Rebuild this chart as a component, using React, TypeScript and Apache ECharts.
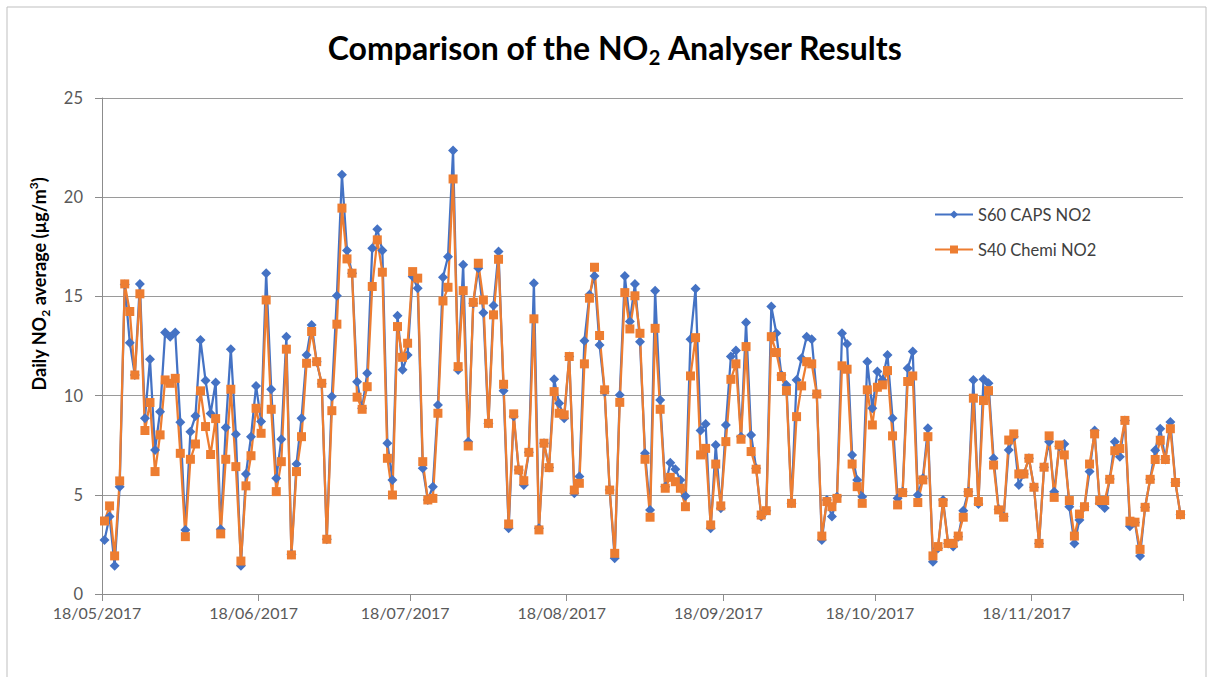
import React, { useEffect, useRef } from "react";
import * as echarts from "echarts";

const START_DATE = "2017-05-18";
const DAY_COUNT = 214;
const TICK_LABELS = ["18/05/2017", "18/06/2017", "18/07/2017", "18/08/2017", "18/09/2017", "18/10/2017", "18/11/2017"];
const SERIES_NAMES = ["S60 CAPS NO2", "S40 Chemi NO2"];

const CAPS_NO2 = [
  2.72, 3.9, 1.43, 5.41, 15.6, 12.67, 11.04, 15.63, 8.86, 11.83, 7.26, 9.19, 13.18, 12.97, 13.18, 8.66, 3.23, 8.18, 8.97, 12.8, 10.76, 9.1, 10.66, 3.26, 8.39, 12.34, 8.05, 1.43, 6.05, 7.93, 10.49, 8.7, 16.17,
  10.32, 5.83, 7.8, 12.97, 2.0, 6.55, 8.86, 12.05, 13.56, 11.7, 10.6, 2.76, 9.95, 15.03, 21.13, 17.31, 16.17, 10.7, 9.36, 11.13, 17.43, 18.39, 17.31, 7.6, 5.75, 14.02, 11.3, 12.05, 16.0, 15.41, 6.34, 4.74, 5.41, 9.53,
  15.97, 17.0, 22.35, 11.29, 16.59, 7.68, 14.66, 16.42, 14.18, 8.6, 14.54, 17.26, 10.25, 3.31, 8.96, 6.25, 5.5, 7.14, 15.66, 3.31, 7.6, 6.37, 10.82, 9.61, 8.86, 11.97, 5.08, 5.92, 12.77, 15.08, 16.03, 12.55, 10.2, 5.24,
  1.8, 10.03, 16.03, 13.73, 15.63, 12.72, 7.09, 4.24, 15.28, 9.78, 5.4, 6.62, 6.29, 5.75, 4.94, 12.84, 15.38, 8.24, 8.57, 3.31, 7.51, 4.32, 8.52, 11.97, 12.27, 7.93, 13.68, 8.02, 6.34, 3.9, 4.2, 14.49, 13.14, 11.04,
  10.54, 4.57, 10.79, 11.88, 12.97, 12.84, 10.08, 2.72, 4.74, 3.9, 4.9, 13.14, 12.6, 7.01, 5.75, 4.9, 11.71, 9.36, 11.21, 10.79, 12.05, 8.86, 4.82, 5.16, 11.38, 12.22, 4.99, 5.83, 8.35, 1.63, 2.3, 4.74, 2.55,
  2.39, 2.89, 4.2, 5.16, 10.79, 4.54, 10.82, 10.62, 6.84, 4.27, 3.9, 7.26, 7.93, 5.5, 6.05, 6.84, 5.38, 2.55, 6.39, 7.68, 5.16, 7.45, 7.56, 4.4, 2.55, 3.73, 4.4, 6.17, 8.24, 4.58, 4.33, 5.8,
  7.67, 6.92, 8.75, 3.42, 3.6, 1.92, 4.37, 5.78, 7.25, 8.33, 6.78, 8.67, 5.62, 4.0,
];

const CHEMI_NO2 = [
  3.68, 4.44, 1.92, 5.7, 15.63, 14.24, 11.04, 15.13, 8.24, 9.65, 6.17, 8.02, 10.79, 10.62, 10.87, 7.09, 2.89, 6.79, 7.56, 10.24, 8.44, 7.03, 8.84, 3.03, 6.79, 10.32, 6.42, 1.66, 5.45, 6.97, 9.36, 8.1, 14.82,
  9.31, 5.16, 6.67, 12.34, 1.97, 6.17, 7.93, 11.63, 13.23, 11.71, 10.62, 2.76, 9.24, 13.6, 19.45, 16.89, 16.17, 9.92, 9.31, 10.45, 15.5, 17.85, 16.22, 6.84, 4.99, 13.48, 11.93, 12.64, 16.25, 15.92, 6.67, 4.74, 4.82, 9.11,
  14.77, 15.46, 20.92, 11.46, 15.29, 7.46, 14.7, 16.67, 14.82, 8.6, 14.07, 16.87, 10.57, 3.53, 9.08, 6.25, 5.71, 7.14, 13.87, 3.23, 7.6, 6.37, 10.2, 9.11, 9.03, 11.97, 5.24, 5.58, 11.6, 14.91, 16.47, 13.03, 10.29, 5.24,
  2.05, 9.66, 15.19, 13.36, 15.03, 13.14, 6.79, 3.87, 13.39, 9.31, 5.33, 5.88, 5.66, 5.33, 4.4, 10.99, 12.92, 7.01, 7.34, 3.48, 6.55, 4.44, 7.68, 10.82, 11.6, 7.8, 12.47, 7.18, 6.29, 3.98, 4.2, 12.97, 12.17, 10.96,
  10.25, 4.57, 8.94, 10.49, 11.71, 11.6, 10.08, 2.92, 4.66, 4.4, 4.82, 11.5, 11.33, 6.55, 5.41, 4.57, 10.29, 8.52, 10.42, 10.54, 11.26, 7.97, 4.49, 5.11, 10.71, 10.99, 4.61, 5.75, 7.93, 1.92, 2.39, 4.61, 2.55,
  2.55, 2.92, 3.87, 5.11, 9.87, 4.66, 9.75, 10.25, 6.5, 4.24, 3.87, 7.76, 8.07, 6.05, 6.05, 6.84, 5.38, 2.55, 6.39, 7.97, 4.87, 7.51, 7.01, 4.71, 2.92, 4.03, 4.4, 6.55, 8.07, 4.71, 4.71, 5.78,
  7.22, 7.33, 8.75, 3.67, 3.62, 2.25, 4.37, 5.78, 6.78, 7.75, 6.78, 8.33, 5.62, 4.0,
];

function buildDates(start: string, count: number): string[] {
  const out: string[] = [];
  const base = new Date(start + "T00:00:00Z").getTime();
  for (let i = 0; i < count; i++) {
    const d = new Date(base + i * 86400000);
    const dd = String(d.getUTCDate()).padStart(2, "0");
    const mm = String(d.getUTCMonth() + 1).padStart(2, "0");
    out.push(`${dd}/${mm}/${d.getUTCFullYear()}`);
  }
  return out;
}

const DATES = buildDates(START_DATE, DAY_COUNT);

const FONT = "Lato, 'Open Sans', sans-serif";

export default function App() {
  const ref = useRef<HTMLDivElement>(null);

  useEffect(() => {
    if (!ref.current) return;
    const chart = echarts.init(ref.current, null, { renderer: "svg" });
    const isTick = (_i: number, v: string) => TICK_LABELS.includes(v);

    chart.setOption({
      animation: false,
      backgroundColor: "#ffffff",
      textStyle: { fontFamily: FONT },
      title: {
        left: 610,
        textAlign: "center",
        top: 22,
        text: "{a|Comparison of the NO}{s|2}{a| Analyser Results}",
        textStyle: {
          rich: {
            a: { fontFamily: FONT, fontSize: 32, fontWeight: "bold", color: "#000000", lineHeight: 40, verticalAlign: "middle" },
            s: { fontFamily: FONT, fontSize: 20, fontWeight: "bold", color: "#000000", verticalAlign: "bottom" },
          },
        },
      },
      legend: {
        orient: "vertical",
        left: 929,
        top: 201,
        itemWidth: 38,
        itemHeight: 10,
        itemGap: 18,
        textStyle: { fontFamily: FONT, fontSize: 16.5, color: "#404040" },
        data: SERIES_NAMES,
      },
      graphic: [
        {
          type: "rect",
          shape: { x: 7, y: 7, width: 1199, height: 700 },
          style: { fill: "none", stroke: "#bfbfbf", lineWidth: 1 },
          silent: true,
        },
        {
          type: "text",
          x: 39,
          y: 284,
          rotation: Math.PI / 2,
          style: {
            text: "{a|Daily NO}{s|2}{a| average (µg/m}{p|3}{a|)}",
            align: "center",
            verticalAlign: "middle",
            rich: {
              a: { fontFamily: FONT, fontSize: 18, fontWeight: "bold", fill: "#000000", lineHeight: 24, verticalAlign: "middle" },
              s: { fontFamily: FONT, fontSize: 12, fontWeight: "bold", fill: "#000000", verticalAlign: "bottom" },
              p: { fontFamily: FONT, fontSize: 12, fontWeight: "bold", fill: "#000000", verticalAlign: "top" },
            },
          },
        },
      ],
      grid: { left: 102, right: 27, top: 98, bottom: 83, outerBoundsMode: "none", containLabel: false },
      xAxis: {
        type: "category",
        data: DATES,
        boundaryGap: true,
        axisLine: { show: true, lineStyle: { color: "#8c8c8c", width: 1 } },
        axisTick: { show: true, interval: isTick, length: 7, lineStyle: { color: "#8c8c8c" } },
        axisLabel: { interval: isTick, fontFamily: FONT, fontSize: 16, color: "#595959", margin: 10, padding: [0, 15, 0, 0] },
        splitLine: { show: false },
      },
      yAxis: {
        type: "value",
        min: 0,
        max: 25,
        interval: 5,
        axisLine: { show: true, lineStyle: { color: "#8c8c8c", width: 1 } },
        axisTick: { show: true, length: 7, lineStyle: { color: "#8c8c8c" } },
        axisLabel: { fontFamily: FONT, fontSize: 16.5, color: "#595959", margin: 19 },
        splitLine: { show: true, lineStyle: { color: "#9a9a9a", width: 1 } },
      },
      series: [
        {
          name: SERIES_NAMES[0],
          type: "line",
          data: CAPS_NO2,
          symbol: "diamond",
          symbolSize: 10,
          showAllSymbol: true,
          lineStyle: { color: "#4472C4", width: 2.25 },
          itemStyle: { color: "#4472C4" },
        },
        {
          name: SERIES_NAMES[1],
          type: "line",
          data: CHEMI_NO2,
          symbol: "rect",
          symbolSize: 9,
          showAllSymbol: true,
          lineStyle: { color: "#ED7D31", width: 2.25 },
          itemStyle: { color: "#ED7D31" },
        },
      ],
    });
    return () => chart.dispose();
  }, []);

  return <div ref={ref} style={{ position: "fixed", left: 0, top: 0, width: 1210, height: 677 }} />;
}
